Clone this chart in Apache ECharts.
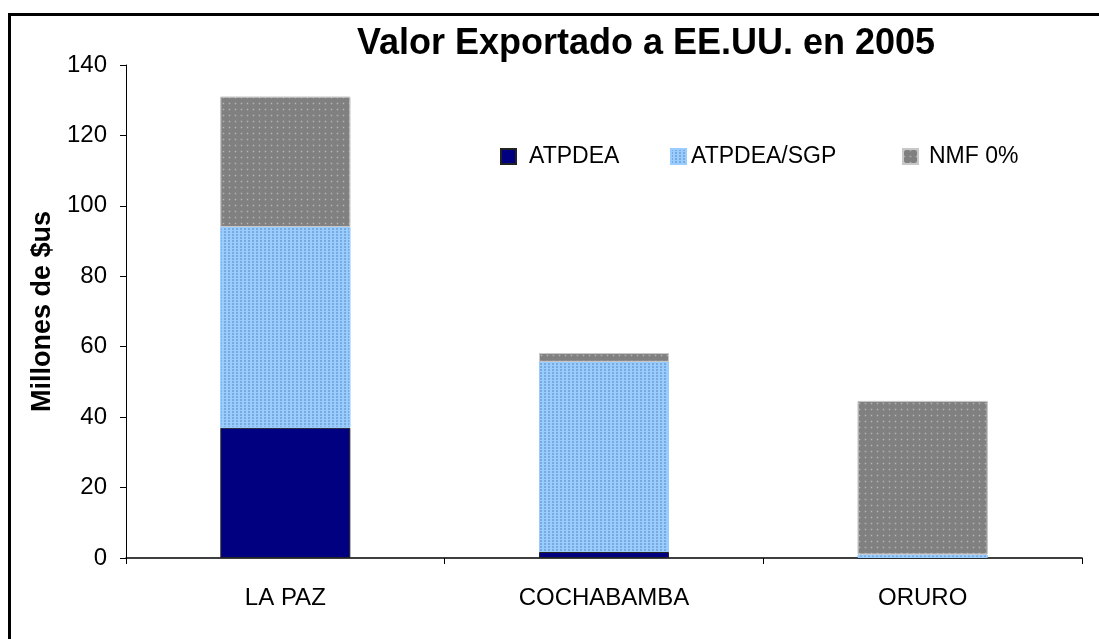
<!DOCTYPE html>
<html>
<head>
<meta charset="utf-8">
<script src="https://cdn.jsdelivr.net/npm/echarts@6/dist/echarts.min.js"></script>
<style>
  html, body { margin: 0; padding: 0; background: #fff; }
  #chart { width: 1099px; height: 639px; }
</style>
</head>
<body>
<div id="chart"></div>
<script>
const categories = ['LA PAZ', 'COCHABAMBA', 'ORURO'];
const atpdea = [37, 1.7, 0];
const atpdeaSgp = [57, 54, 1];
const nmf = [37, 2.5, 43.6];
const yTicks = [0, 20, 40, 60, 80, 100, 120, 140];

const chart = echarts.init(document.getElementById('chart'));
const font = '"Liberation Sans", Arial, sans-serif';

const option = {
  backgroundColor: '#ffffff',
  animation: false,
  title: {
    text: 'Valor Exportado a EE.UU. en 2005',
    left: 641,
    top: 21,
    textAlign: 'center',
    textStyle: { fontFamily: font, fontSize: 36, fontWeight: 'bold', color: '#000' }
  },
  legend: [
    { data: ['ATPDEA'], left: 500, gap: 8 },
    { data: ['ATPDEA/SGP'], left: 670, gap: 0 },
    { data: ['NMF 0%'], left: 902, gap: 6 }
  ].map(l => ({
    data: l.data, left: l.left,
    top: 145, padding: 0,
    itemWidth: 15, itemHeight: 15, itemGap: 0,
    icon: 'rect',
    textStyle: { fontFamily: font, fontSize: 23, color: '#000', padding: [0, 0, 0, l.gap] }
  })),
  grid: { left: 126, right: 17, top: 65, bottom: 81 },
  xAxis: {
    type: 'category',
    data: categories,
    axisLine: { lineStyle: { color: '#000', width: 1.5 } },
    axisTick: { show: true, length: 6, lineStyle: { color: '#000' } },
    axisLabel: { fontFamily: font, fontSize: 24, color: '#000', margin: 28 }
  },
  yAxis: {
    type: 'value',
    min: 0, max: 140, interval: 20,
    name: 'Millones de $us',
    nameLocation: 'middle',
    nameGap: 70,
    nameTextStyle: { fontFamily: font, fontSize: 27, fontWeight: 'bold', color: '#000' },
    axisLine: { show: true, lineStyle: { color: '#000' } },
    axisTick: { show: true, length: 6, lineStyle: { color: '#000' } },
    axisLabel: {
      fontFamily: font, fontSize: 24, color: '#000', margin: 19,
      formatter: v => yTicks.includes(v) ? String(v) : ''
    },
    splitLine: { show: false }
  },
  series: [
    {
      name: 'ATPDEA', type: 'bar', stack: 'total', data: atpdea, barWidth: 130,
      itemStyle: { color: '#000080', borderColor: '#222', borderWidth: 1 }
    },
    {
      name: 'ATPDEA/SGP', type: 'bar', stack: 'total', data: atpdeaSgp,
      itemStyle: {
        color: '#99ccff', borderColor: '#99ccff', borderWidth: 1,
        decal: { symbol: 'rect', symbolSize: 0.6, color: '#35598f', dashArrayX: [2, 2], dashArrayY: [2, 1], backgroundColor: '#99ccff' }
      }
    },
    {
      name: 'NMF 0%', type: 'bar', stack: 'total', data: nmf,
      itemStyle: {
        color: '#808080', borderColor: '#c8c8c8', borderWidth: 1,
        decal: { symbol: 'rect', symbolSize: 0.5, color: '#b4b4b4', dashArrayX: [3, 3], dashArrayY: [3, 3], backgroundColor: '#808080' }
      }
    }
  ],
  graphic: [
    {
      type: 'rect', left: 7, top: 12,
      shape: { width: 1120, height: 660 },
      style: { fill: 'none', stroke: '#000', lineWidth: 3 },
      silent: true
    }
  ]
};

chart.setOption(option);
</script>
</body>
</html>
